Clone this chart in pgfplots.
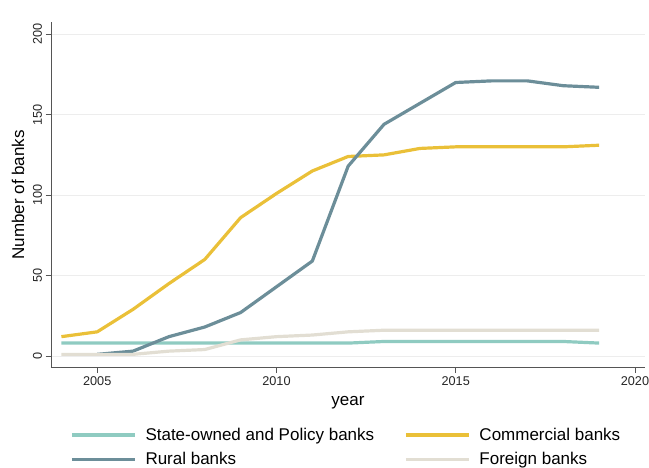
\documentclass[border=0pt]{standalone}
\usepackage{fontspec}
\setmainfont{Liberation Sans}
\usepackage{pgfplots}
\pgfplotsset{compat=1.18}
\definecolor{cstate}{RGB}{143,203,193}
\definecolor{ccomm}{RGB}{234,192,56}
\definecolor{crural}{RGB}{108,142,153}
\definecolor{cfor}{RGB}{226,222,211}
\definecolor{axgray}{RGB}{85,85,85}
\begin{document}
\begin{tikzpicture}
\begin{axis}[
  at={(0pt,0pt)}, anchor=south west,
  scale only axis, width=594pt, height=345.7pt,
  xmin=2003.71, xmax=2020.28, ymin=-7.3, ymax=207.6,
  axis lines=left,
  axis line style={axgray, line width=0.9pt, -},
  xtick={2005,2010,2015,2020},
  ytick={0,50,100,150,200},
  tick align=outside,
  major tick length=5.5pt,
  tick style={axgray, line width=0.8pt},
  ymajorgrids,
  major grid style={color=black!7, line width=0.8pt},
  /pgf/number format/assume math mode=true,
  /pgf/number format/1000 sep={},
  tick label style={font=\fontsize{12.7}{14}\selectfont, text=black!85},
  yticklabel style={rotate=90, anchor=south},
  xlabel={year},
  ylabel={Number of banks},
  label style={font=\fontsize{17}{20}\selectfont},
  xlabel style={at={(axis description cs:0.5,-0.108)}, anchor=base},
  ylabel style={at={(axis description cs:-0.0556,0.5)}, anchor=center},
  legend columns=2,
  legend cell align=left,
  legend image code/.code={\draw[#1, line width=3.3pt] (0pt,0pt) -- (63pt,0pt);},
  legend style={
    at={(axis description cs:0.032,-0.168)}, anchor=north west,
    draw=none, fill=none, inner sep=0pt,
    font=\fontsize{17}{20}\selectfont,
    row sep=6.7pt,
    /tikz/every odd column/.append style={column sep=7pt},
    /tikz/every even column/.append style={column sep=28pt},
  },
  line join=round,
]
\addplot[cstate, line width=3.2pt] coordinates {
(2004,8) (2005,8) (2006,8) (2007,8) (2008,8) (2009,8) (2010,8) (2011,8) (2012,8)
(2013,9) (2014,9) (2015,9) (2016,9) (2017,9) (2018,9) (2019,8)};
\addlegendentry{State-owned and Policy banks}
\addplot[ccomm, line width=3.2pt] coordinates {
(2004,12) (2005,15) (2006,29) (2007,45) (2008,60) (2009,86) (2010,101) (2011,115) (2012,124)
(2013,125) (2014,129) (2015,130) (2016,130) (2017,130) (2018,130) (2019,131)};
\addlegendentry{Commercial banks}
\addplot[crural, line width=3.2pt] coordinates {
(2005,1) (2006,3) (2007,12) (2008,18) (2009,27) (2010,43) (2011,59) (2012,118)
(2013,144) (2014,157) (2015,170) (2016,171) (2017,171) (2018,168) (2019,167)};
\addlegendentry{Rural banks}
\addplot[cfor, line width=3.2pt] coordinates {
(2004,1) (2005,1) (2006,1) (2007,3) (2008,4) (2009,10) (2010,12) (2011,13) (2012,15)
(2013,16) (2014,16) (2015,16) (2016,16) (2017,16) (2018,16) (2019,16)};
\addlegendentry{Foreign banks}
\end{axis}
\pgfresetboundingbox
\path (-51pt,-99.3pt) rectangle (598pt,367.7pt);
\end{tikzpicture}
\end{document}
